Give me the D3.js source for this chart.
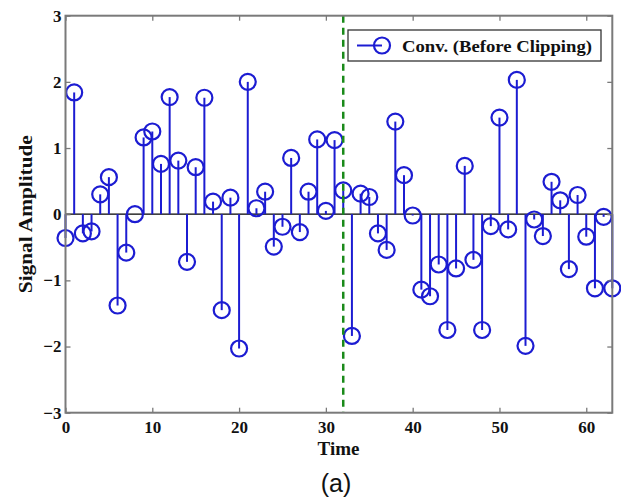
<!DOCTYPE html>
<html><head><meta charset="utf-8">
<script src="https://cdn.jsdelivr.net/npm/d3@7"></script>
<style>body{margin:0;background:#fff}svg{display:block}</style>
</head><body>
<svg id="c" width="621" height="502"></svg>
<script>
const times = d3.range(0, 64);
const amplitude = [
 -0.36, 1.84, -0.29, -0.26, 0.30, 0.56, -1.38, -0.58, 0.00, 1.16,
  1.25, 0.76, 1.77, 0.81, -0.72, 0.71, 1.76, 0.19, -1.45, 0.25,
 -2.03, 2.00, 0.09, 0.34, -0.49, -0.19, 0.85, -0.27, 0.34, 1.13,
  0.05, 1.12, 0.36, -1.84, 0.31, 0.26, -0.29, -0.54, 1.40, 0.59,
 -0.02, -1.14, -1.24, -0.76, -1.75, -0.82, 0.73, -0.69, -1.75, -0.18,
  1.46, -0.23, 2.03, -1.99, -0.08, -0.33, 0.49, 0.21, -0.83, 0.29,
 -0.34, -1.12, -0.04, -1.12];
const xTicks = [0, 10, 20, 30, 40, 50, 60];
const yTicks = [-3, -2, -1, 0, 1, 2, 3];
const clipTime = 32;
const legendLabel = "Conv. (Before Clipping)";
const xTitle = "Time", yTitle = "Signal Amplitude", caption = "(a)";

(function(){
const svg = d3.select("#c");
const L = 65.5, R = 612.3, T = 15.7, B = 412.7;
const x = d3.scaleLinear().domain([0, 63]).range([L, R]);
const y = d3.scaleLinear().domain([-3, 3]).range([B, T]);
const blue = "#1c1cd2", frame = "#7a7a7a";
const serif = "'Liberation Serif','DejaVu Serif',serif";

const g = svg.append("g");
g.append("line").attr("x1", L).attr("x2", R).attr("y1", y(0)).attr("y2", y(0))
 .attr("stroke", "#000").attr("stroke-width", 1.2);
g.selectAll(".stem").data(times).join("line")
 .attr("x1", d => x(d)).attr("x2", d => x(d))
 .attr("y1", y(0)).attr("y2", d => y(amplitude[d]))
 .attr("stroke", blue).attr("stroke-width", 2);
g.selectAll(".mk").data(times).join("circle")
 .attr("cx", d => x(d)).attr("cy", d => y(amplitude[d])).attr("r", 8)
 .attr("fill", "none").attr("stroke", blue).attr("stroke-width", 2.2);
svg.append("line").attr("x1", x(clipTime)).attr("x2", x(clipTime)).attr("y1", T).attr("y2", B)
 .attr("stroke", "#1a8a1a").attr("stroke-width", 2.5).attr("stroke-dasharray", "7,5");

const ax = svg.append("g");
const axB = d3.axisBottom(x).tickValues(xTicks).tickSizeInner(-5).tickSizeOuter(0).tickPadding(8);
const axT = d3.axisTop(x).tickValues(xTicks).tickSizeInner(-5).tickSizeOuter(0).tickFormat("");
const axL = d3.axisLeft(y).tickValues(yTicks).tickSizeInner(-5).tickSizeOuter(0).tickPadding(4)
  .tickFormat(d => d < 0 ? "\u2212" + Math.abs(d) : d);
const axR = d3.axisRight(y).tickValues(yTicks).tickSizeInner(-5).tickSizeOuter(0).tickFormat("");
function style(sel){
  sel.select(".domain").remove();
  sel.selectAll(".tick line").attr("stroke", frame).attr("stroke-width", 1.3);
  sel.selectAll("text").attr("fill", "#111").attr("font-family", serif).attr("font-weight", "bold").attr("font-size", 17);
}
ax.append("g").attr("transform", `translate(0,${B})`).call(axB).call(style);
ax.append("g").attr("transform", `translate(0,${T})`).call(axT).call(style);
ax.append("g").attr("transform", `translate(${L},0)`).call(axL).call(style);
ax.append("g").attr("transform", `translate(${R},0)`).call(axR).call(style);
svg.append("rect").attr("x", L).attr("y", T).attr("width", R - L).attr("height", B - T)
 .attr("fill", "none").attr("stroke", frame).attr("stroke-width", 2);

svg.append("text").attr("x", 338.5).attr("y", 455).attr("text-anchor", "middle")
 .attr("font-family", serif).attr("font-weight", "bold").attr("font-size", 19).attr("fill", "#111").text(xTitle);
svg.append("text").attr("transform", `translate(32,${y(0)}) rotate(-90)`).attr("text-anchor", "middle")
 .attr("font-family", serif).attr("font-weight", "bold").attr("font-size", 19).attr("fill", "#111")
 .attr("textLength", 158).attr("lengthAdjust", "spacingAndGlyphs").text(yTitle);
svg.append("text").attr("x", 336).attr("y", 492).attr("text-anchor", "middle")
 .attr("font-family", "'Liberation Sans',Arial,sans-serif").attr("font-size", 25).attr("fill", "#111").text(caption);

const lg = svg.append("g");
lg.append("rect").attr("x", 348).attr("y", 30).attr("width", 253).attr("height", 31)
 .attr("fill", "#fff").attr("stroke", "#333").attr("stroke-width", 1.3);
lg.append("line").attr("x1", 357).attr("x2", 382).attr("y1", 45.5).attr("y2", 45.5)
 .attr("stroke", blue).attr("stroke-width", 2);
lg.append("circle").attr("cx", 382).attr("cy", 45.5).attr("r", 8)
 .attr("fill", "none").attr("stroke", blue).attr("stroke-width", 2.2);
lg.append("text").attr("x", 402).attr("y", 51.5).attr("font-family", serif).attr("font-weight", "bold")
 .attr("font-size", 17).attr("fill", "#111").attr("textLength", 190).attr("lengthAdjust", "spacingAndGlyphs").text(legendLabel);
})();
</script>
</body></html>
